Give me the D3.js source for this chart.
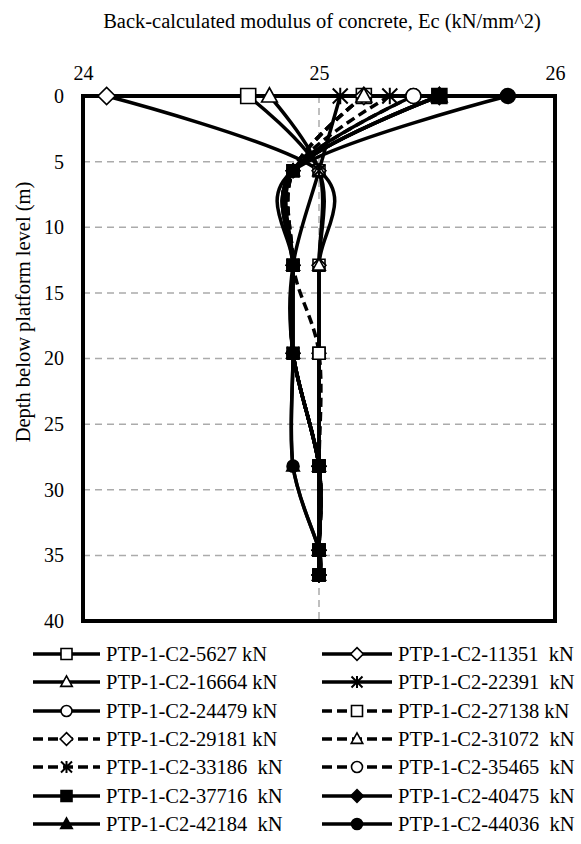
<!DOCTYPE html>
<html>
<head>
<meta charset="utf-8">
<script src="https://cdn.jsdelivr.net/npm/d3@7/dist/d3.min.js"></script>
<style>
  body { margin: 0; background: #fff; }
  svg text { font-family: "Liberation Serif", "Times New Roman", serif; fill: #000; }
</style>
</head>
<body>
<div id="chart"></div>
<script>
// gauge depths (m) shared by every load step
const depths = [0, 5.7, 12.9, 19.6, 28.2, 34.6, 36.5];

const loadNames = [
  "PTP-1-C2-5627 kN", "PTP-1-C2-11351  kN", "PTP-1-C2-16664 kN", "PTP-1-C2-22391  kN",
  "PTP-1-C2-24479 kN", "PTP-1-C2-27138 kN", "PTP-1-C2-29181 kN", "PTP-1-C2-31072  kN",
  "PTP-1-C2-33186  kN", "PTP-1-C2-35465  kN", "PTP-1-C2-37716  kN", "PTP-1-C2-40475  kN",
  "PTP-1-C2-42184  kN", "PTP-1-C2-44036  kN"
];

// Ec values (kN/mm^2) at each depth, one row per load step
const ecValues = [
  [24.70, 25.00, 25.00, 25.00, 25.00, 25.00, 25.00],
  [24.10, 25.00, 25.00, 25.00, 25.00, 25.00, 25.00],
  [24.79, 25.00, 25.00, 25.00, 25.00, 25.00, 25.00],
  [25.09, 25.00, 24.89, 24.89, 25.00, 25.00, 25.00],
  [25.40, 24.89, 24.89, 24.89, 25.00, 25.00, 25.00],
  [25.19, 24.89, 24.89, 25.00, 25.00, 25.00, 25.00],
  [25.19, 24.89, 24.89, 24.89, 25.00, 25.00, 25.00],
  [25.19, 24.89, 24.89, 24.89, 25.00, 25.00, 25.00],
  [25.30, 24.89, 24.89, 24.89, 25.00, 25.00, 25.00],
  [25.40, 24.89, 24.89, 24.89, 25.00, 25.00, 25.00],
  [25.51, 24.89, 24.89, 24.89, 25.00, 25.00, 25.00],
  [25.51, 24.89, 24.89, 24.89, 25.00, 25.00, 25.00],
  [25.51, 24.89, 24.89, 24.89, 24.89, 25.00, 25.00],
  [25.80, 24.89, 24.89, 24.89, 24.89, 25.00, 25.00]
];

const markerShapes = ["square", "diamond", "triangle", "star", "circle", "square", "diamond",
  "triangle", "star", "circle", "square", "diamond", "triangle", "circle"];
const markerFilled = [false, false, false, false, false, false, false, false, false, false, true, true, true, true];
const lineDashed = [false, false, false, false, false, true, true, true, true, true, false, false, false, false];

const xTicks = [24, 25, 26];
const yTicks = [0, 5, 10, 15, 20, 25, 30, 35, 40];

const width = 581;
const height = 844;
const plot = { left: 83, right: 555, top: 96, bottom: 621 };

const svg = d3.select("#chart").append("svg")
  .attr("width", width)
  .attr("height", height);

const x = d3.scaleLinear().domain([24, 26]).range([plot.left, plot.right]);
const y = d3.scaleLinear().domain([0, 40]).range([plot.top, plot.bottom]);

// gridlines
svg.append("g")
  .selectAll("line")
  .data(yTicks.filter((d) => d > 0 && d < 40))
  .join("line")
  .attr("x1", plot.left).attr("x2", plot.right)
  .attr("y1", (d) => y(d)).attr("y2", (d) => y(d))
  .attr("stroke", "#ababab").attr("stroke-width", 1.5).attr("stroke-dasharray", "7,5");

svg.append("g")
  .selectAll("line")
  .data(xTicks.filter((d) => d > 24 && d < 26))
  .join("line")
  .attr("x1", (d) => x(d)).attr("x2", (d) => x(d))
  .attr("y1", plot.top).attr("y2", plot.bottom)
  .attr("stroke", "#ababab").attr("stroke-width", 1.5).attr("stroke-dasharray", "7,5");

// axes (labels only, no tick marks)
const xAxis = svg.append("g")
  .attr("transform", `translate(0,${plot.top - 16})`)
  .call(d3.axisTop(x).tickValues(xTicks).tickFormat(d3.format("d")).tickSize(0).tickPadding(0));
xAxis.select(".domain").remove();
xAxis.selectAll("text").attr("font-size", 20);

const yAxis = svg.append("g")
  .attr("transform", `translate(${plot.left - 19},0)`)
  .call(d3.axisLeft(y).tickValues(yTicks).tickSize(0).tickPadding(0));
yAxis.select(".domain").remove();
yAxis.selectAll("text").attr("font-size", 20);

// plot border
svg.append("rect")
  .attr("x", plot.left).attr("y", plot.top)
  .attr("width", plot.right - plot.left).attr("height", plot.bottom - plot.top)
  .attr("fill", "none").attr("stroke", "#000").attr("stroke-width", 4);

svg.append("text")
  .attr("x", 322).attr("y", 28)
  .attr("text-anchor", "middle").attr("font-size", 20.5)
  .text("Back-calculated modulus of concrete, Ec (kN/mm^2)");

svg.append("text")
  .attr("transform", `translate(30,312) rotate(-90)`)
  .attr("text-anchor", "middle").attr("font-size", 20.5)
  .text("Depth below platform level (m)");

const series = loadNames.map((name, i) => ({
  name,
  shape: markerShapes[i],
  filled: markerFilled[i],
  dashed: lineDashed[i],
  points: depths.map((d, j) => ({ depth: d, ec: ecValues[i][j] }))
}));

const line = d3.line()
  .x((d) => x(d.ec))
  .y((d) => y(d.depth))
  .curve(d3.curveCatmullRom.alpha(0));

function markerPath(shape, s) {
  const h = s / 2;
  if (shape === "square") return `M${-h},${-h}H${h}V${h}H${-h}Z`;
  if (shape === "diamond") return `M0,${-h * 1.15}L${h * 1.15},0L0,${h * 1.15}L${-h * 1.15},0Z`;
  if (shape === "triangle") return `M0,${-h * 1.1}L${h * 1.05},${h * 0.8}L${-h * 1.05},${h * 0.8}Z`;
  if (shape === "circle") return d3.symbol(d3.symbolCircle, Math.PI * h * h)();
  return `M${-h},${-h}L${h},${h}M${-h},${h}L${h},${-h}M0,${-h * 1.1}V${h * 1.1}`;
}

function drawMarker(g, shape, filled, size) {
  g.append("path")
    .attr("d", markerPath(shape, size))
    .attr("fill", shape === "star" ? "none" : filled ? "#000" : "#fff")
    .attr("stroke", "#000")
    .attr("stroke-width", shape === "star" ? 2 : 1.6);
}

svg.append("g")
  .selectAll("path")
  .data(series)
  .join("path")
  .attr("d", (d) => line(d.points))
  .attr("fill", "none")
  .attr("stroke", "#000")
  .attr("stroke-width", 3.5)
  .attr("stroke-dasharray", (d) => (d.dashed ? "9,5" : null));

const markerLayer = svg.append("g");
series.forEach((s) => {
  s.points.forEach((p, j) => {
    const g = markerLayer.append("g")
      .attr("transform", `translate(${x(p.ec)},${y(p.depth)})`);
    drawMarker(g, s.shape, s.filled, j === 0 ? 15 : 12);
  });
});

// legend, two columns
const legendRows = [654, 682, 711, 739, 767, 796, 824];
const legendCols = [{ x0: 33, x1: 100, tx: 106 }, { x0: 322, x1: 392, tx: 398 }];

series.forEach((s, i) => {
  const col = legendCols[i % 2];
  const ry = legendRows[Math.floor(i / 2)];
  const g = svg.append("g");
  g.append("line")
    .attr("x1", col.x0).attr("x2", col.x1)
    .attr("y1", ry).attr("y2", ry)
    .attr("stroke", "#000").attr("stroke-width", 3.5)
    .attr("stroke-dasharray", s.dashed ? "10,5" : null);
  const m = g.append("g").attr("transform", `translate(${(col.x0 + col.x1) / 2},${ry})`);
  drawMarker(m, s.shape, s.filled, 11);
  g.append("text")
    .attr("x", col.tx).attr("y", ry + 7)
    .attr("font-size", 20.5)
    .style("white-space", "pre")
    .text(s.name);
});
</script>
</body>
</html>
